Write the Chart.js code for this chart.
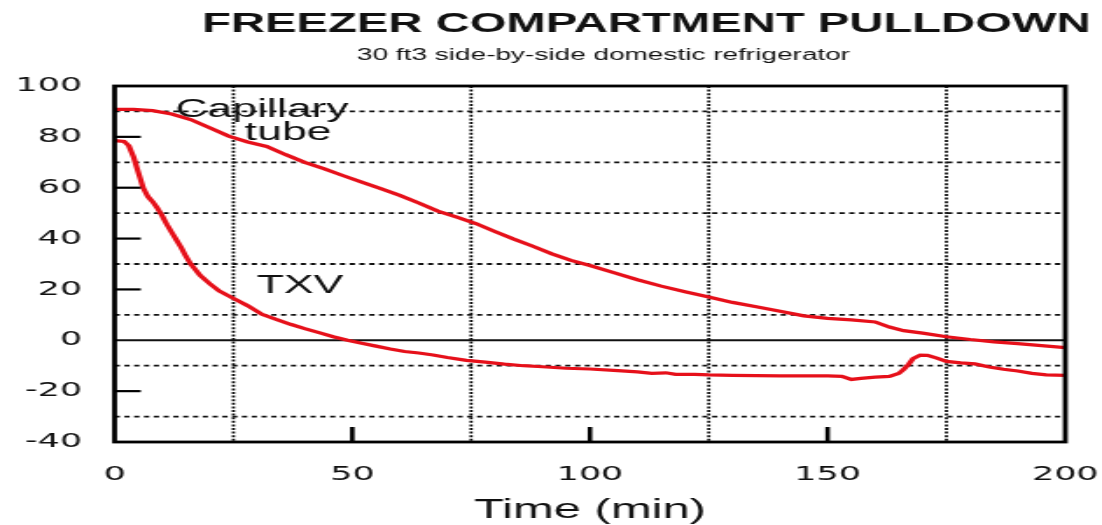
<!DOCTYPE html>
<html>
<head>
<meta charset="utf-8">
<title>Freezer compartment pulldown</title>
<script src="https://cdn.jsdelivr.net/npm/chart.js@4.4.1/dist/chart.umd.min.js"></script>
<style>
  body { margin: 0; background: #fff; }
  /* the original picture is stretched sideways, so the canvas is too */
  #graf { display: block; width: 1102px !important; height: 525px !important; }
</style>
</head>
<body>
<canvas id="graf" width="630" height="525" style="width:1102px;height:525px"></canvas>
<script>
// capillary tube curve (min, temp)
const capTime = [0, 4, 8, 12, 16, 20, 24, 28, 32, 36, 40, 44, 48, 52, 56, 60, 64, 68, 72, 76, 80, 84, 88, 92, 96, 100,
  105, 110, 115, 120, 125, 130, 135, 140, 145, 150, 155, 160, 163, 166, 170, 175, 180, 185, 190, 195, 200];
const capTemp = [90.8, 90.8, 90.3, 89, 86.8, 83.6, 80.3, 78, 76.2, 73, 70, 67.5, 64.8, 62.2, 59.6, 57, 54, 50.8, 48.4, 45.9, 42.8, 39.8, 37, 34, 31.4, 29.4,
  26.6, 23.8, 21.3, 19.1, 17, 14.9, 13.2, 11.4, 9.6, 8.6, 8, 7.2, 5.2, 3.8, 2.8, 1.4, 0.3, -0.6, -1.3, -2.1, -2.9];

// TXV curve (min, temp)
const txvTime = [0, 2, 3, 4, 5, 6, 7, 8, 9, 10, 11, 12, 13, 14, 15, 16, 18, 20, 22, 25, 28, 31, 34, 37, 40, 43, 46, 49,
  52, 55, 58, 61, 64, 67, 70, 74, 78, 82, 86, 90, 95, 100, 105, 110, 113, 116, 118, 122, 125, 130, 135, 140, 145, 150,
  153, 155, 157, 160, 163, 165, 166, 167, 168, 169.5, 171, 173, 175, 178, 181, 184, 187, 190, 193, 196, 198, 200];
const txvTemp = [78.5, 78.2, 76.5, 72, 66, 60, 56.5, 54.5, 52, 49, 45.5, 42.5, 39.5, 36.5, 33, 30, 25.5, 22.3, 19.4, 16.5, 13.6, 10.2, 8.2, 6.3, 4.6, 3, 1.4, 0,
  -1.2, -2.3, -3.4, -4.4, -5, -5.8, -6.8, -7.9, -8.6, -9.4, -10, -10.4, -11, -11.3, -11.8, -12.4, -13, -12.8, -13.4, -13.4, -13.6, -13.8, -13.9, -14, -14, -14,
  -14.2, -15.4, -15, -14.5, -14.2, -13, -11.5, -9.5, -7.2, -5.8, -5.9, -7, -8.3, -8.9, -9.3, -10.5, -11.4, -12.1, -13, -13.6, -13.7, -13.8];

const gridX = [25, 75, 125, 175];            // dotted vertical lines
const gridY = [90, 70, 50, 30, 10, -10, -30]; // dotted horizontal lines
const markX = [50, 100, 150];                // short ticks from the bottom
const markY = [80, 60, 40, 20, -20];         // short ticks from the left

const etiquetas = [
  { texto: 'Capillary', x: 31, y: 90.5 },
  { texto: 'tube', x: 36.5, y: 81.5 },
  { texto: 'TXV', x: 39, y: 21.5 }
];

const rojo = '#e6101a';
const fuente = '"Liberation Sans", Arial, Helvetica, sans-serif';
const fuenteNum = '"DejaVu Sans", Verdana, sans-serif';

function puntos(xs, ys) {
  return xs.map((x, i) => ({ x, y: ys[i] }));
}

const decoracion = {
  id: 'decoracion',
  beforeDatasetsDraw(chart) {
    const { ctx, chartArea: a, scales: { x, y } } = chart;
    ctx.save();
    ctx.strokeStyle = '#111';
    // dotted horizontals
    ctx.lineWidth = 1.8;
    ctx.setLineDash([3, 2.6]);
    gridY.forEach(v => {
      const py = y.getPixelForValue(v);
      ctx.beginPath(); ctx.moveTo(a.left, py); ctx.lineTo(a.right, py); ctx.stroke();
    });
    // dotted verticals
    ctx.lineWidth = 1.8;
    ctx.setLineDash([2, 1.6]);
    gridX.forEach(v => {
      const px = x.getPixelForValue(v);
      ctx.beginPath(); ctx.moveTo(px, a.top); ctx.lineTo(px, a.bottom); ctx.stroke();
    });
    // zero line
    ctx.setLineDash([]);
    ctx.lineWidth = 2;
    const y0 = y.getPixelForValue(0);
    ctx.beginPath(); ctx.moveTo(a.left, y0); ctx.lineTo(a.right, y0); ctx.stroke();
    ctx.restore();
  },
  afterDatasetsDraw(chart) {
    const { ctx, chartArea: a, scales: { x, y } } = chart;
    ctx.save();
    ctx.strokeStyle = '#000';
    ctx.lineWidth = 2.2;
    markY.forEach(v => {
      const py = y.getPixelForValue(v);
      ctx.beginPath(); ctx.moveTo(a.left, py); ctx.lineTo(a.left + 15, py); ctx.stroke();
    });
    ctx.lineWidth = 2.6;
    markX.forEach(v => {
      const px = x.getPixelForValue(v);
      ctx.beginPath(); ctx.moveTo(px, a.bottom); ctx.lineTo(px, a.bottom - 15); ctx.stroke();
    });
    // frame
    ctx.lineWidth = 2.8;
    ctx.strokeRect(a.left, a.top, a.right - a.left, a.bottom - a.top);

    // curve labels
    ctx.fillStyle = '#111';
    ctx.textAlign = 'center';
    ctx.textBaseline = 'middle';
    ctx.font = '25.5px ' + fuente;
    etiquetas.forEach(e => {
      ctx.fillText(e.texto, x.getPixelForValue(e.x), y.getPixelForValue(e.y));
    });

    // title and subtitle
    ctx.font = 'bold 27px ' + fuente;
    ctx.fillText('FREEZER COMPARTMENT PULLDOWN', 369.5, 25);
    ctx.font = '16px ' + fuente;
    ctx.fillText('30 ft3 side-by-side domestic refrigerator', 345, 56);
    ctx.restore();
  }
};

new Chart(document.getElementById('graf'), {
  type: 'line',
  data: {
    datasets: [
      { label: 'Capillary tube', data: puntos(capTime, capTemp), borderColor: rojo, borderWidth: 3.2, pointRadius: 0, tension: 0 },
      { label: 'TXV', data: puntos(txvTime, txvTemp), borderColor: rojo, borderWidth: 3.2, pointRadius: 0, tension: 0 }
    ]
  },
  options: {
    responsive: false,
    devicePixelRatio: 1,
    animation: false,
    layout: { padding: { left: 0, top: 86, right: 21, bottom: 0 } },
    plugins: { legend: { display: false }, tooltip: { enabled: false } },
    scales: {
      x: {
        type: 'linear', min: 0, max: 200,
        grid: { display: false },
        border: { display: false },
        ticks: { stepSize: 50, padding: 12.5, color: '#111', font: { family: fuenteNum, size: 20 } },
        title: { display: true, text: 'Time (min)', color: '#111', font: { family: fuente, size: 28, lineHeight: 1 }, padding: { top: 0, bottom: 1 } },
        afterFit(s) { s.height = 83; s.paddingLeft = 0; s.paddingRight = 0; }
      },
      y: {
        min: -40, max: 100,
        grid: { display: false },
        border: { display: false },
        ticks: { stepSize: 20, padding: 10.5, color: '#111', font: { family: fuenteNum, size: 20 } },
        afterFit(s) { s.width = 65.5; s.paddingTop = 0; s.paddingBottom = 0; }
      }
    }
  },
  plugins: [decoracion]
});
</script>
</body>
</html>
